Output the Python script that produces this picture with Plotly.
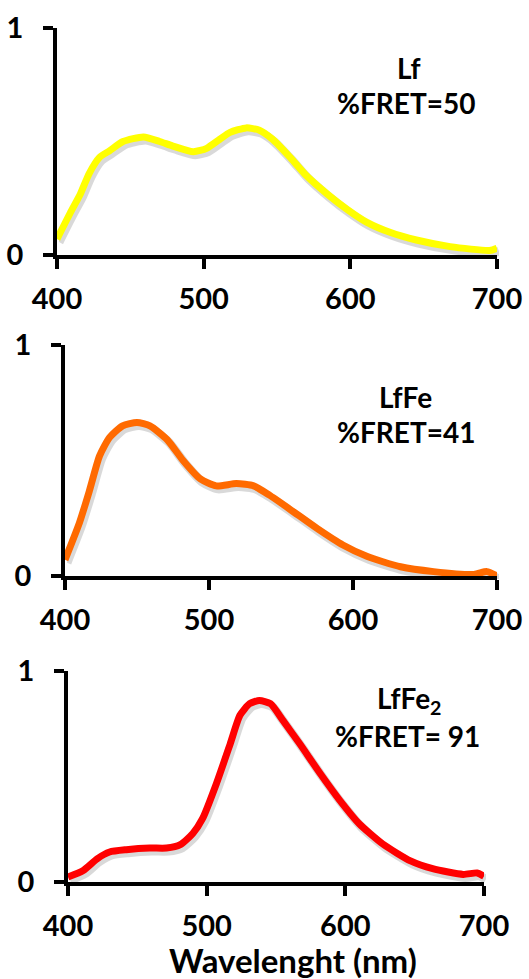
import plotly.graph_objects as go

# ---- data ----
wl_lf = [400, 409, 416, 422, 429, 436, 445, 459, 470, 479, 493, 502, 511, 518, 529, 538, 547, 559, 570, 584, 598, 611, 627, 645, 668, 695, 700]
lf = [0.07, 0.185, 0.27, 0.36, 0.43, 0.46, 0.50, 0.52, 0.50, 0.48, 0.455, 0.47, 0.51, 0.54, 0.56, 0.55, 0.51, 0.43, 0.35, 0.27, 0.20, 0.145, 0.10, 0.066, 0.037, 0.02, 0.03]

wl_lffe = [400, 410, 417, 424, 431, 440, 450, 459, 471, 482, 494, 505, 519, 531, 542, 556, 575, 593, 610, 633, 656, 684, 693, 700]
lffe = [0.07, 0.23, 0.37, 0.52, 0.60, 0.65, 0.665, 0.65, 0.59, 0.50, 0.42, 0.39, 0.40, 0.39, 0.35, 0.29, 0.206, 0.134, 0.084, 0.04, 0.019, 0.007, 0.019, 0.0]

wl_lffe2 = [400, 411, 421, 430, 442, 459, 471, 481, 490, 497, 507, 517, 524, 531, 538, 546, 555, 567, 582, 596, 610, 627, 647, 663, 685, 695, 700]
lffe2 = [0.024, 0.055, 0.11, 0.142, 0.153, 0.161, 0.161, 0.177, 0.23, 0.30, 0.466, 0.655, 0.79, 0.845, 0.86, 0.845, 0.766, 0.656, 0.513, 0.387, 0.276, 0.18, 0.10, 0.063, 0.036, 0.043, 0.027]

x_ticks = [400, 500, 600, 700]
y_ticks = [0, 1]
labels = ["Lf", "LfFe", "LfFe<sub>2</sub>"]
fret = ["%FRET=50", "%FRET=41", "%FRET= 91"]
colors = ["#FFFF00", "#FF6A00", "#FF0000"]

W, H = 529, 979
FONT = "Lato"

# pixel boxes: (left, right, top, bottom)
boxes = [(57, 497, 28, 255), (65, 497, 345, 576), (68, 484, 671, 882)]
label_pos = [((409, 68), (406, 103)), ((405, 397), (406, 432)), ((409, 700), (407, 736))]

series = [(wl_lf, lf), (wl_lffe, lffe), (wl_lffe2, lffe2)]

fig = go.Figure()
layout = {}
annotations = []
SDX, SDY = 2, 3
shadow_traces = []
main_traces = []
for i, ((l, r, t, b), (xs, ys), col) in enumerate(zip(boxes, series, colors)):
    # shadow subplots come first (drawn underneath), visible axes after
    sn = i + 1
    ss = "" if sn == 1 else str(sn)
    n = i + 4
    sx = str(n)
    xd = [l / W, r / W]
    yd = [1 - b / H, 1 - t / H]
    xd_s = [(l + SDX) / W, (r + SDX) / W]
    yd_s = [1 - (b + SDY) / H, 1 - (t + SDY) / H]
    layout[f"xaxis{ss}"] = dict(domain=xd_s, range=[400, 700], visible=False, anchor=f"y{ss}", automargin=False)
    layout[f"yaxis{ss}"] = dict(domain=yd_s, range=[0, 1], visible=False, anchor=f"x{ss}", automargin=False)
    shadow_traces.append(go.Scatter(x=xs, y=ys, mode="lines", xaxis=f"x{ss}", yaxis=f"y{ss}",
                             line=dict(color="rgba(0,0,0,0.15)", width=9, shape="spline", smoothing=0.6),
                             hoverinfo="skip", showlegend=False))
    layout[f"xaxis{sx}"] = dict(domain=xd, range=[400, 700], anchor=f"y{sx}", automargin=False,
                                tickvals=x_ticks, ticks="outside", ticklen=10, tickwidth=3.5,
                                tickcolor="black", showline=True, linecolor="black", linewidth=3.5,
                                showgrid=False, zeroline=False, ticklabelstandoff=5,
                                tickfont=dict(family=FONT, size=29, color="black", weight="bold"))
    layout[f"yaxis{sx}"] = dict(domain=yd, range=[0, 1], anchor=f"x{sx}", automargin=False,
                                tickvals=y_ticks, ticks="outside", ticklen=10, tickwidth=3.5,
                                tickcolor="black", showline=True, linecolor="black", linewidth=3.5,
                                showgrid=False, zeroline=False, ticklabelstandoff=14,
                                tickfont=dict(family=FONT, size=29, color="black", weight="bold"))
    main_traces.append(go.Scatter(x=xs, y=ys, mode="lines", xaxis=f"x{sx}", yaxis=f"y{sx}",
                             line=dict(color=col, width=7, shape="spline", smoothing=0.6),
                             showlegend=False))
    (lx, ly), (fx, fy) = label_pos[i]
    annotations.append(dict(text=labels[i], x=lx / W, y=1 - ly / H, xref="paper", yref="paper",
                            showarrow=False, xanchor="center", yanchor="middle",
                            font=dict(family=FONT, size=28, color="black", weight="bold")))
    annotations.append(dict(text=fret[i], x=fx / W, y=1 - fy / H, xref="paper", yref="paper",
                            showarrow=False, xanchor="center", yanchor="middle",
                            font=dict(family=FONT, size=28, color="black", weight="bold")))

for tr in shadow_traces + main_traces:
    fig.add_trace(tr)

annotations.append(dict(text="Wavelenght (nm)", x=293 / W, y=1 - 960 / H, xref="paper", yref="paper",
                        showarrow=False, xanchor="center", yanchor="middle",
                        font=dict(family=FONT, size=33, color="black", weight="bold")))

fig.update_layout(width=W, height=H, margin=dict(l=0, r=0, t=0, b=0), template="none",
                  paper_bgcolor="white", plot_bgcolor="rgba(0,0,0,0)", annotations=annotations, **layout)

fig.write_html("out.html")
